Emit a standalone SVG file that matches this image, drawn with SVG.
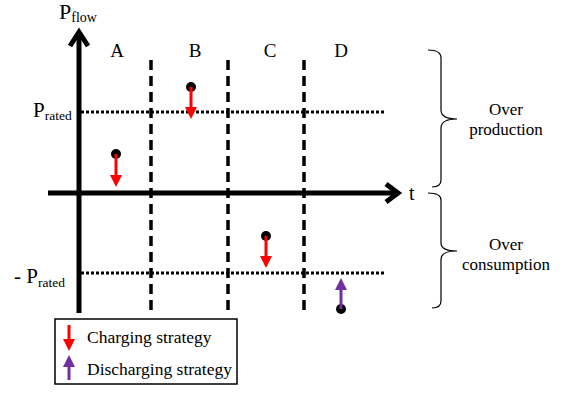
<svg xmlns="http://www.w3.org/2000/svg" width="566" height="393" viewBox="0 0 566 393">
<style>
text{font-family:"Liberation Serif","Times New Roman",serif;fill:#000}
.ax{stroke:#000;stroke-width:5;fill:none}
.dash{stroke:#000;stroke-width:3.5;stroke-dasharray:10,6}
.dot{stroke:#000;stroke-width:3;stroke-dasharray:3,2}
.brace{stroke:#000;stroke-width:1.2;fill:none}
.red{stroke:#ff0000;stroke-width:3}
.pur{stroke:#7030a0;stroke-width:3}
</style>
<rect width="566" height="393" fill="#fff"/>
<g id="connectors">
<line class="dash" x1="151" y1="60" x2="151" y2="314"/>
<line class="dash" x1="228" y1="60" x2="228" y2="314"/>
<line class="dash" x1="304" y1="60" x2="304" y2="314"/>
<line class="dot" x1="81" y1="112" x2="386" y2="112"/>
<line class="dot" x1="81" y1="273" x2="386" y2="273"/>
<line class="ax" x1="79" y1="32" x2="79" y2="313"/>
<polyline class="ax" points="70,46 79,32 88,46"/>
<line class="ax" x1="48" y1="193" x2="398" y2="193"/>
<polyline class="ax" points="386,184 398,193 386,202"/>
</g>
<g id="labels">
<text x="59" y="19" font-size="22">P<tspan font-size="14" dy="3">flow</tspan></text>
<text x="117" y="57" font-size="19" text-anchor="middle">A</text>
<text x="195" y="57" font-size="19" text-anchor="middle">B</text>
<text x="270" y="57" font-size="19" text-anchor="middle">C</text>
<text x="341" y="57" font-size="19" text-anchor="middle">D</text>
<text x="33" y="117" font-size="21">P<tspan font-size="13.5" dy="3">rated</tspan></text>
<text x="14" y="283" font-size="21">- P<tspan font-size="13.5" dy="4">rated</tspan></text>
<text x="409" y="200" font-size="20">t</text>
</g>
<g id="pointA">
<circle cx="116" cy="154" r="5"/>
<line class="red" x1="116" y1="154" x2="116" y2="176"/>
<polygon points="110,175 122,175 116,187" fill="#ff0000"/>
</g>
<g id="pointB">
<circle cx="191" cy="87" r="5"/>
<line class="red" x1="191" y1="87" x2="191" y2="108"/>
<polygon points="185,107 197,107 191,119" fill="#ff0000"/>
</g>
<g id="pointC">
<circle cx="266" cy="236" r="5"/>
<line class="red" x1="266" y1="236" x2="266" y2="257"/>
<polygon points="260,256 272,256 266,268" fill="#ff0000"/>
</g>
<g id="pointD">
<circle cx="341" cy="309" r="5"/>
<line class="pur" x1="341" y1="309" x2="341" y2="289"/>
<polygon points="335,290 347,290 341,278" fill="#7030a0"/>
</g>
<g id="braceUpper">
<path class="brace" d="M428,50 Q441,50 441,58 L441,110 Q441,119 457,119 Q441,119 441,128 L441,180 Q441,187 432,187"/>
<text x="506" y="115" font-size="17" text-anchor="middle">Over</text>
<text x="506" y="135" font-size="17" text-anchor="middle">production</text>
</g>
<g id="braceLower">
<path class="brace" d="M428,193 Q441,193 441,200 L441,243 Q441,251 457,251 Q441,251 441,259 L441,301 Q441,308 432,308"/>
<text x="506" y="250" font-size="17" text-anchor="middle">Over</text>
<text x="506" y="270" font-size="17" text-anchor="middle">consumption</text>
</g>
<g id="legend">
<rect x="55" y="319" width="182" height="65" fill="#fff" stroke="#000" stroke-width="1.5"/>
<line class="red" x1="69" y1="325" x2="69" y2="340"/>
<polygon points="63,339 75,339 69,351" fill="#ff0000"/>
<text x="87" y="343" font-size="17.5">Charging strategy</text>
<line class="pur" x1="69" y1="380" x2="69" y2="366"/>
<polygon points="63,367 75,367 69,355" fill="#7030a0"/>
<text x="87" y="375" font-size="17.5">Discharging strategy</text>
</g>
</svg>
